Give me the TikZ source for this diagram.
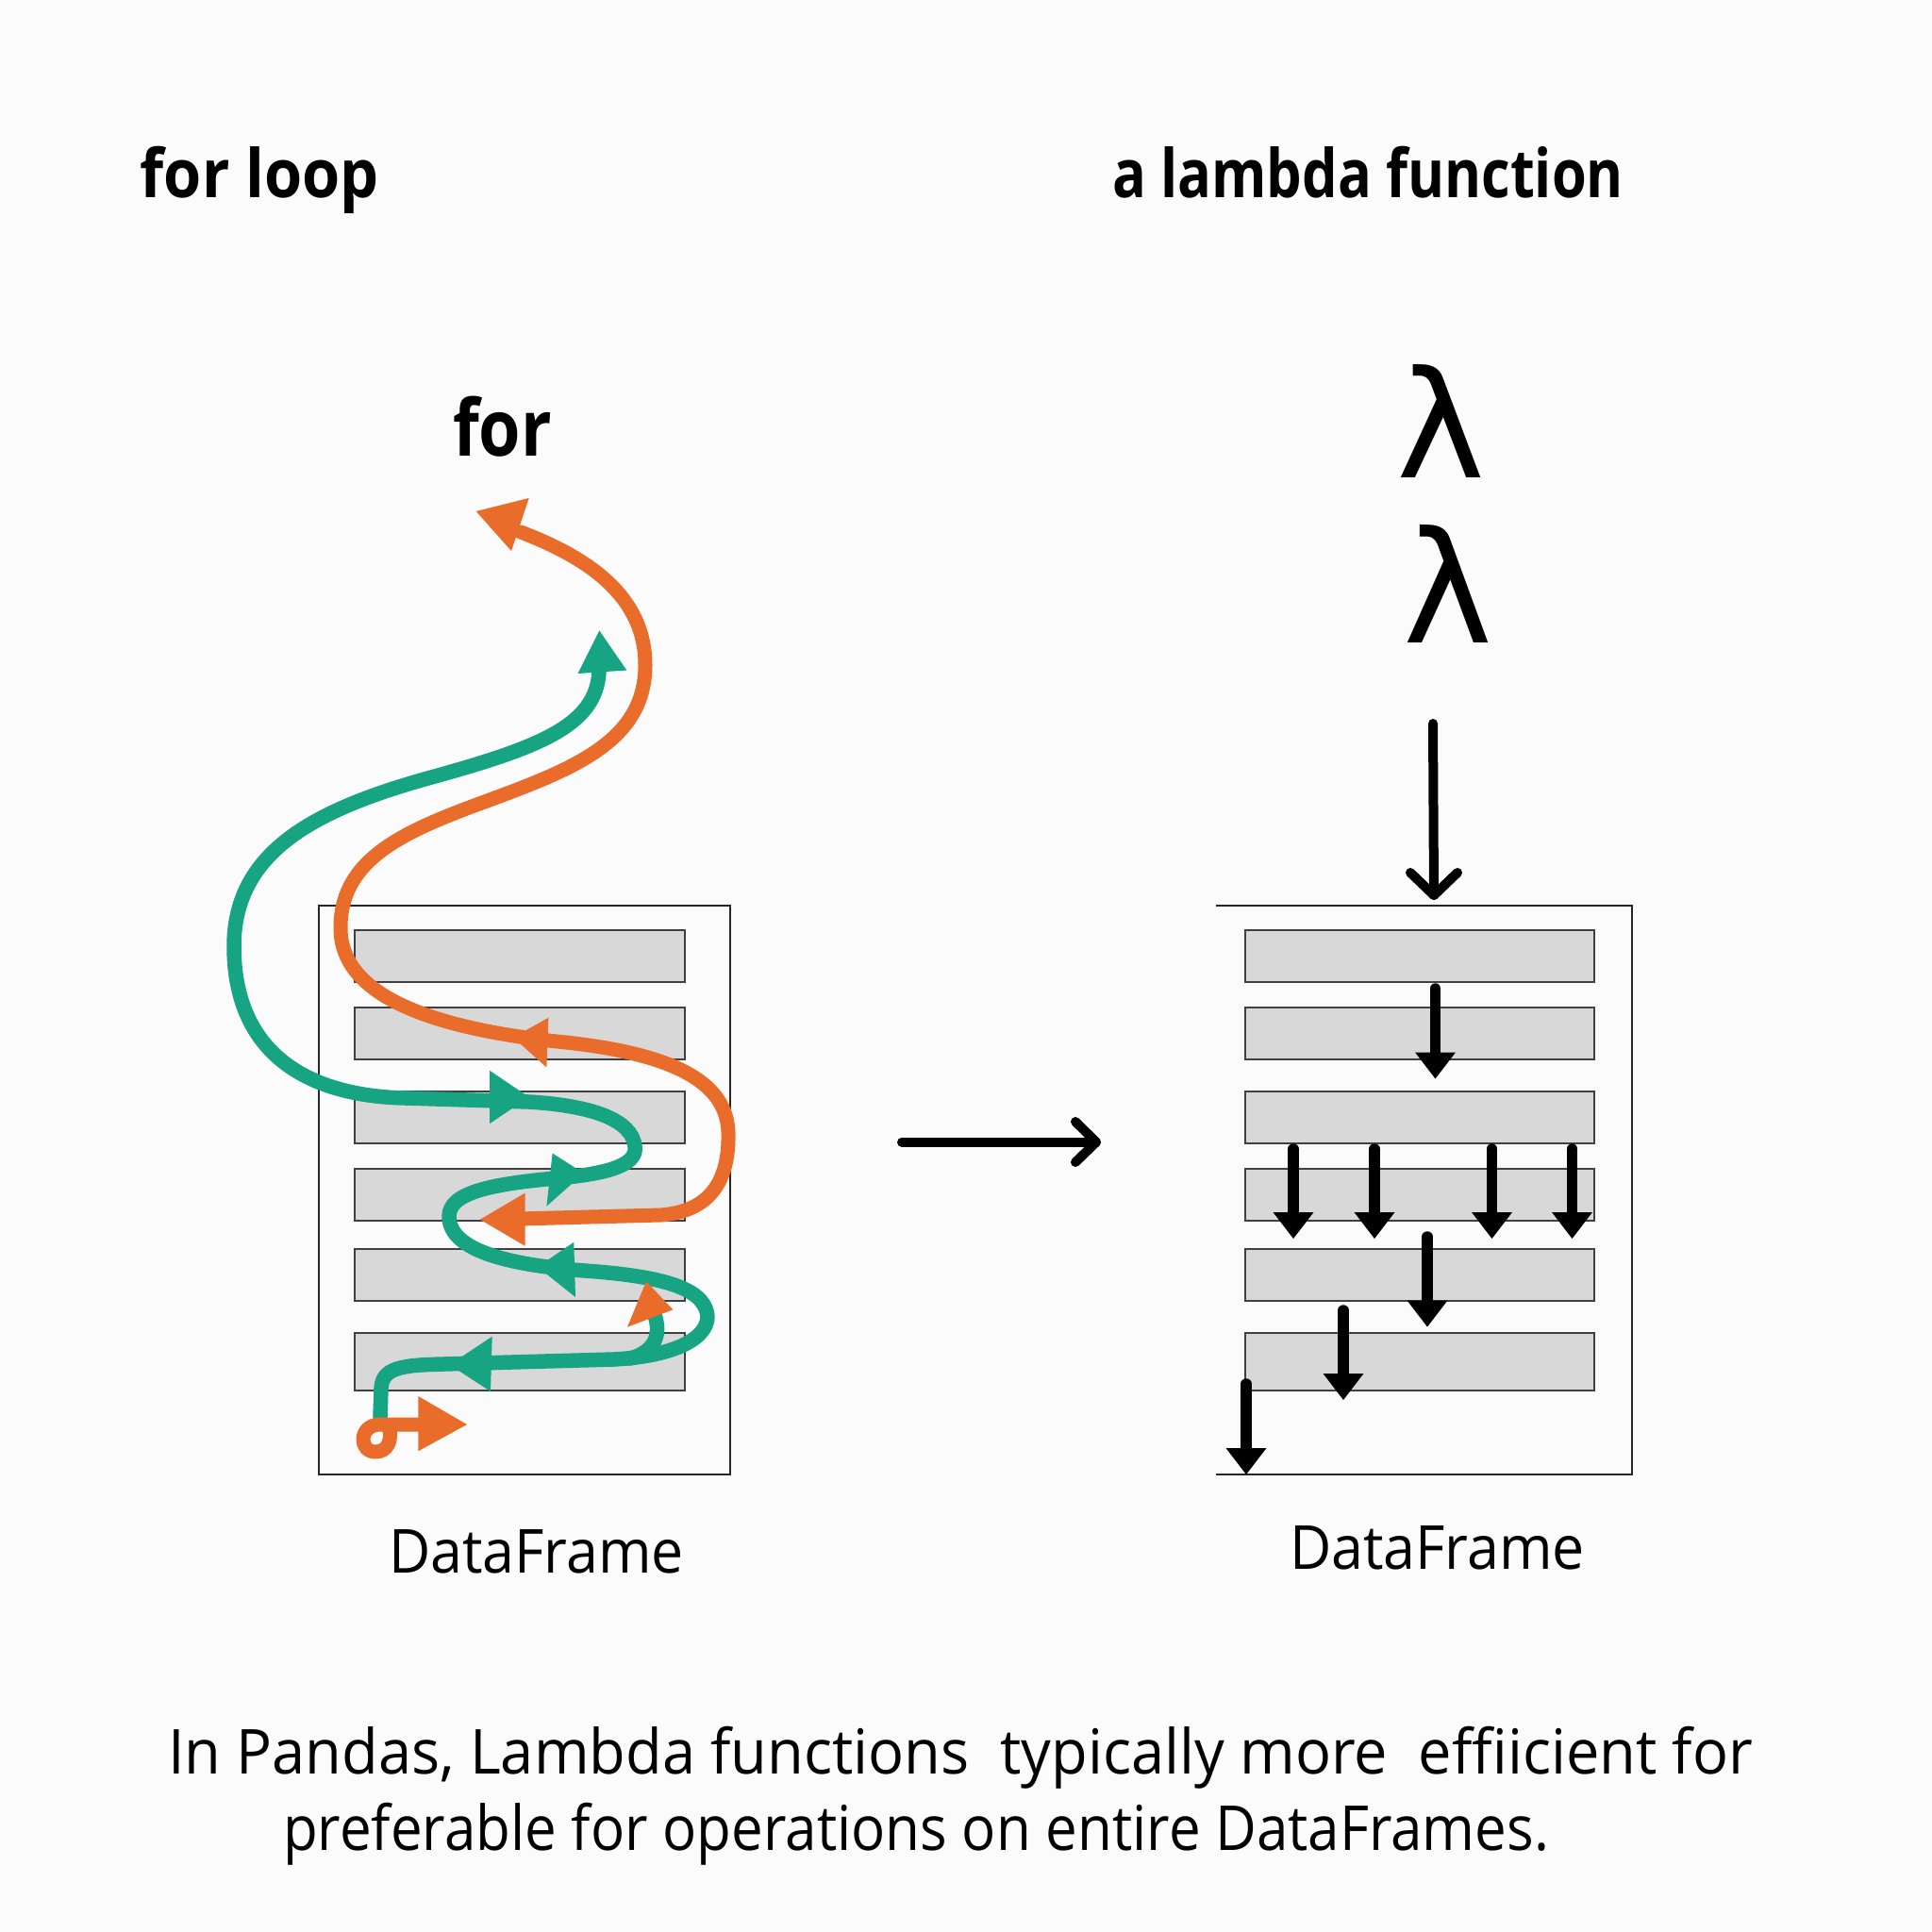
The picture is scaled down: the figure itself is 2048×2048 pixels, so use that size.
\documentclass[tikz,border=0pt]{standalone}
\usepackage{fontspec}
\setmainfont{Open Sans}
\newfontfamily\dejavu{DejaVu Sans}
\usepackage{graphicx}
\definecolor{gorange}{RGB}{234,108,42}
\definecolor{ggreen}{RGB}{22,164,130}
\definecolor{rowgray}{RGB}{216,216,216}
\definecolor{bgc}{RGB}{251,251,251}
\tikzset{
  every node/.style={inner sep=0pt, outer sep=0pt},
  rowbox/.style={fill=rowgray, draw=black!75, line width=0.18mm},
  framebox/.style={draw=black!85, line width=0.25mm},
  gpath/.style={draw=ggreen, line width=1.55mm, line cap=round, line join=round},
  opath/.style={draw=gorange, line width=1.5mm, line cap=round, line join=round},
  ghead/.style={fill=ggreen},
  ohead/.style={fill=gorange},
  blk/.style={draw=black, line width=1.15mm, line cap=round},
  chev/.style={draw=black, line width=1.0mm, line cap=round, line join=round},
}
\newcommand{\blockarrow}[3]{%
  \draw[blk] (#1,#2) -- (#1,#3-26);
  \fill (#1-21.5,#3-28) -- (#1+21.5,#3-28) -- (#1,#3) -- cycle;}
\begin{document}
\begin{tikzpicture}[x=0.1mm,y=-0.1mm]
\useasboundingbox (0,0) rectangle (2048,2048);
\fill[bgc] (0,0) rectangle (2048,2048);

% titles
\node[anchor=base west] (tfor) at (148.8,210) {\fontsize{20.2}{24}\selectfont\bfseries\resizebox{25.3mm}{\height}{for loop}};
\node[anchor=base west] (tlam) at (1179,210) {\fontsize{20.2}{24}\selectfont\bfseries\resizebox{54.2mm}{\height}{a lambda function}};
\node[anchor=base west] (forw) at (480,483) {\fontsize{23.6}{28}\selectfont\bfseries\resizebox{10.5mm}{\height}{for}};
\node[anchor=south west] (lam1) at (1480,506) {\resizebox{9.4mm}{12.0mm}{\dejavu λ}};
\node[anchor=south west] (lam2) at (1487,681) {\resizebox{9.5mm}{12.5mm}{\dejavu λ}};

% left frame and rows
\draw[framebox] (338,960) rectangle (774,1563);
\foreach \a/\b in {986/1041,1068/1123,1157/1212,1239/1294,1324/1379,1413/1474}
  \draw[rowbox] (376,\a) rectangle (726,\b);

% right frame (no left side) and rows
\draw[framebox] (1289,960) -- (1730,960) -- (1730,1563) -- (1289,1563);
\foreach \a/\b in {986/1041,1068/1123,1157/1212,1239/1294,1324/1379,1413/1474}
  \draw[rowbox] (1320,\a) rectangle (1690,\b);

% green path
\draw[gpath] (403,1502) -- (404,1472)
  .. controls (405,1450) and (425,1447) .. (470,1446) -- (650,1441)
  .. controls (730,1437) and (758,1410) .. (748,1387)
  .. controls (738,1362) and (690,1352) .. (620,1347)
  .. controls (540,1341) and (477,1326) .. (476,1290)
  .. controls (475,1262) and (530,1254) .. (600,1248)
  .. controls (650,1243) and (676,1233) .. (673,1215)
  .. controls (670,1188) and (630,1172) .. (560,1168) -- (430,1164)
  .. controls (330,1162) and (249,1120) .. (248,1005)
  .. controls (247,905) and (330,860) .. (450,826)
  .. controls (570,793) and (632,770) .. (635,712);
\draw[gpath] (668,1440) .. controls (697,1432) and (700,1412) .. (694,1394);
% green heads
\fill[ghead] (635.3,668.4) -- (612.5,714) -- (664.3,710.5) -- cycle;
\fill[ghead] (560.7,1163) -- (519.2,1134.9) -- (519.2,1191) -- cycle;
\fill[ghead] (618.7,1243.6) -- (585.6,1222.5) -- (579.4,1278.7) -- cycle;
\fill[ghead] (570,1343) -- (608.3,1316.7) -- (610,1375) -- cycle;
\fill[ghead] (476.7,1446.7) -- (521.7,1416.7) -- (520,1475) -- cycle;

% orange path
\draw[opath] (550,1292) -- (700,1288)
  .. controls (758,1284) and (773,1245) .. (772,1201)
  .. controls (771,1150) and (720,1118) .. (600,1105)
  .. controls (470,1092) and (362,1060) .. (361,985)
  .. controls (360,915) and (420,885) .. (500,855)
  .. controls (600,818) and (684,790) .. (684,705)
  .. controls (684,630) and (620,590) .. (552,564);
\draw[opath] (445,1510) -- (402,1510)
  .. controls (380,1511) and (380,1539) .. (398,1539)
  .. controls (412,1539) and (415,1525) .. (413,1516);
% orange heads
\fill[ohead] (504.7,542) -- (560.7,528) -- (542,584) -- cycle;
\fill[ohead] (544,1099.8) -- (581.4,1078.7) -- (579.4,1131.4) -- cycle;
\fill[ohead] (508.9,1292.7) -- (556.6,1264.6) -- (556.6,1320.8) -- cycle;
\fill[ohead] (685,1358.3) -- (665,1406.7) -- (713.3,1388.3) -- cycle;
\fill[ohead] (443.3,1480) -- (443.3,1538.3) -- (495,1510) -- cycle;

% horizontal arrow
\coordinate (h1) at (956,1210.7);
\coordinate (h2) at (1162,1210.7);
\draw[chev] (h1) -- (h2);
\draw[chev] (1140,1189) -- (h2) -- (1140,1232);

% vertical arrow from lambda
\coordinate (v1) at (1519,767);
\coordinate (v2) at (1520,949);
\draw[chev] (v1) -- (v2);
\draw[chev] (1495,925) -- (v2) -- (1545,925);

% block arrows
\blockarrow{1521.5}{1048}{1143.5}
\foreach \x in {1371,1457,1581.5,1666.5} {\blockarrow{\x}{1218}{1313}}
\blockarrow{1513}{1311}{1406.5}
\blockarrow{1424}{1389}{1484}
\blockarrow{1321}{1467}{1563}

% DataFrame labels
\node[anchor=base west] (dfl) at (412,1667) {\fontsize{18.3}{22}\selectfont\resizebox{31.3mm}{\height}{DataFrame}};
\node[anchor=base west] (dfr) at (1367,1663) {\fontsize{18.3}{22}\selectfont\resizebox{31.3mm}{\height}{DataFrame}};

% bottom text
\node[anchor=base west] (cap1) at (178,1880) {\fontsize{18.7}{22}\selectfont\resizebox{168mm}{\height}{In Pandas, Lambda functions\ \ typically more\ \ effiicient for}};
\node[anchor=base west] (cap2) at (300,1961) {\fontsize{18.7}{22}\selectfont\resizebox{134.2mm}{\height}{preferable for operations on entire DataFrames.}};
\end{tikzpicture}
\end{document}
